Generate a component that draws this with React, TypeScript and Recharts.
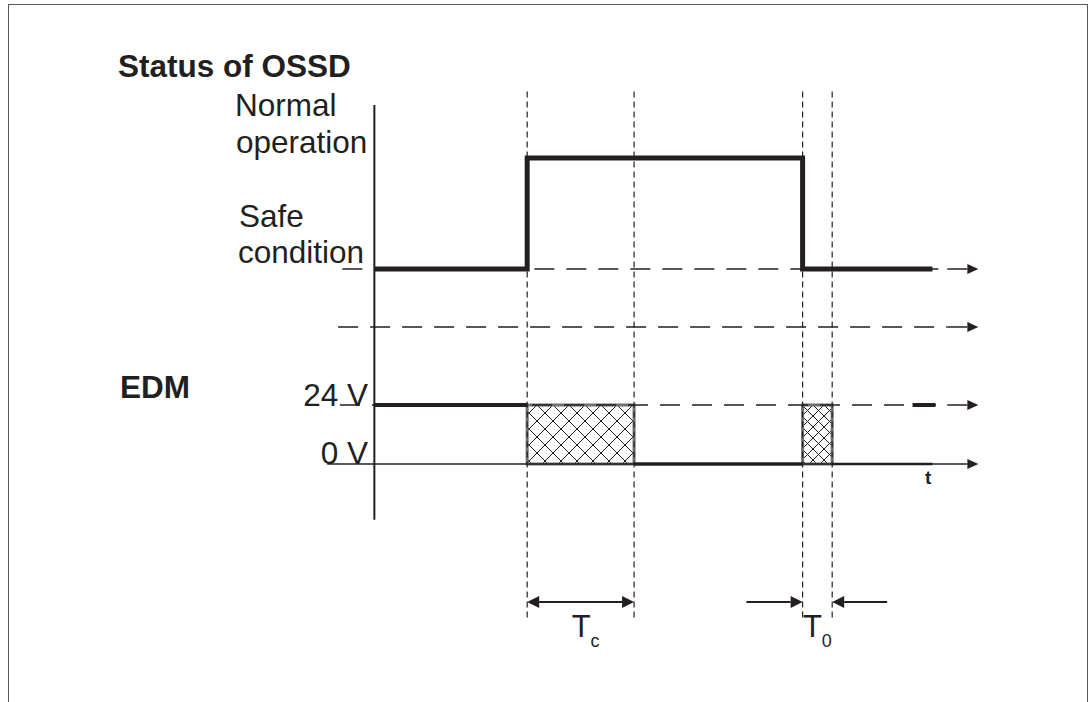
import React from "react";
import {
  ComposedChart,
  Line,
  XAxis,
  YAxis,
  ReferenceLine,
  ReferenceArea,
} from "recharts";

const INK = "#231f20";
const BOX = "#6d6e71";
const FONT = '"Liberation Sans", Arial, Helvetica, sans-serif';

// switching instants on the time axis (arbitrary units, axis origin = 0)
const switchTimes = [25.3, 43, 70.9, 75.8];
const axisEnd = 100;

// OSSD status: 0 = safe condition, 1 = normal operation
const ossdStatus = [
  { t: 0, v: 0 },
  { t: 25.3, v: 1 },
  { t: 70.9, v: 0 },
  { t: 92.4, v: 0 },
];

// EDM voltage pieces in volts
const edmHigh = [
  { t: 0, v: 24 },
  { t: 25.3, v: 24 },
];
const edmLow = [
  { t: 43, v: 0 },
  { t: 70.9, v: 0 },
];
const edmLowTail = [
  { t: 75.8, v: 0 },
  { t: 92.4, v: 0 },
];
const edmTick = [
  { t: 89.1, v: 24 },
  { t: 92.9, v: 24 },
];

// EDM undefined while the contacts switch (Tc, T0)
const edmWindows = [
  { from: 25.3, to: 43 },
  { from: 70.9, to: 75.8 },
];
const hatchIds = ["xhatch-wide", "xhatch-narrow"];

const arrowPath = (x: number, y: number, dir: number, len: number, half: number) =>
  `M${x},${y}L${x - dir * len},${y - half}L${x - dir * len},${y + half}Z`;

// horizontal time axis ending in an arrow
const timeArrow = (dashed: boolean) => (p: any) => {
  const { x1, y1, x2 } = p;
  const head = 11;
  const lead = dashed ? 20 : 0;
  const stop = x2 - head - lead;
  return (
    <g>
      <line
        x1={x1}
        y1={y1}
        x2={stop}
        y2={y1}
        stroke={INK}
        strokeWidth={1.5}
        strokeDasharray={dashed ? "20 12" : undefined}
      />
      {dashed && <line x1={stop} y1={y1} x2={x2 - head} y2={y1} stroke={INK} strokeWidth={1.5} />}
      <path d={arrowPath(x2, y1, 1, head, 5)} fill={INK} />
    </g>
  );
};

// dimension arrow, head at end (and optionally at start)
const dimArrow = (both: boolean) => (p: any) => {
  const { x1, y1, x2 } = p;
  const dir = x2 > x1 ? 1 : -1;
  const head = 12;
  return (
    <g>
      <line
        x1={both ? x1 + dir * head : x1}
        y1={y1}
        x2={x2 - dir * head}
        y2={y1}
        stroke={INK}
        strokeWidth={2}
      />
      <path d={arrowPath(x2, y1, dir, head, 6)} fill={INK} />
      {both && <path d={arrowPath(x1, y1, -dir, head, 6)} fill={INK} />}
    </g>
  );
};

const dimLabel = (main: string, sub: string, shift: number) => (p: any) => {
  const { x1, y1, x2 } = p;
  return (
    <text
      x={(x1 + x2) / 2 + shift}
      y={y1 + 35}
      textAnchor="middle"
      fill={INK}
      fontFamily={FONT}
    >
      <tspan fontSize={31}>{main}</tspan>
      <tspan fontSize={18} dy={10}>
        {sub}
      </tspan>
    </text>
  );
};

export default function App() {
  const textStyle = { fontFamily: FONT, fill: INK };
  return (
    <div
      style={{
        position: "absolute",
        left: 0,
        top: 0,
        width: 1090,
        height: 702,
        background: "#fff",
        overflow: "hidden",
      }}
    >
      <svg width={0} height={0} style={{ position: "absolute" }}>
        <defs>
          <pattern
            id="xhatch-wide"
            width={16}
            height={16}
            patternUnits="userSpaceOnUse"
            patternTransform="translate(521,405)"
          >
            <path d="M0,0L16,16M16,0L0,16" stroke={INK} strokeWidth={1} />
          </pattern>
          <pattern
            id="xhatch-narrow"
            width={11}
            height={11}
            patternUnits="userSpaceOnUse"
            patternTransform="translate(802,405)"
          >
            <path d="M0,0L11,11M11,0L0,11" stroke={INK} strokeWidth={1} />
          </pattern>
        </defs>
      </svg>

      <div
        style={{
          position: "absolute",
          left: 8,
          top: 4,
          width: 1078,
          height: 720,
          borderStyle: "solid",
          borderColor: "#5a5a5a",
          borderWidth: "1.5px 1.5px 0 1.5px",
        }}
      />

      <div style={{ position: "absolute", left: 0, top: 0 }}>
        <ComposedChart
          width={1090}
          height={702}
          margin={{ top: 60, right: 105.6, bottom: 42, left: 320 }}
        >
          <XAxis type="number" dataKey="t" domain={[-9, 101]} allowDataOverflow hide />
          <YAxis yAxisId="ossd" type="number" domain={[-3.523, 1.883]} allowDataOverflow hide />
          <YAxis yAxisId="edm" type="number" domain={[-79.73, 164.34]} allowDataOverflow hide />

          {/* switching instants */}
          {switchTimes.map((t) => (
            <ReferenceLine
              key={`sw-${t}`}
              yAxisId="ossd"
              segment={[
                { x: t, y: 1.6 },
                { x: t, y: -3.17 },
              ]}
              stroke={INK}
              strokeWidth={1.2}
              strokeDasharray="6 4"
              ifOverflow="visible"
            />
          ))}

          {/* time axes */}
          <ReferenceLine
            yAxisId="ossd"
            segment={[
              { x: -5.3, y: 0 },
              { x: axisEnd, y: 0 },
            ]}
            shape={timeArrow(true)}
            ifOverflow="visible"
          />
          <ReferenceLine
            yAxisId="ossd"
            segment={[
              { x: -6, y: -0.5225 },
              { x: axisEnd, y: -0.5225 },
            ]}
            shape={timeArrow(true)}
            ifOverflow="visible"
          />
          <ReferenceLine
            yAxisId="edm"
            segment={[
              { x: -5.7, y: 24 },
              { x: axisEnd, y: 24 },
            ]}
            shape={timeArrow(true)}
            ifOverflow="visible"
          />
          <ReferenceLine
            yAxisId="edm"
            segment={[
              { x: -7.8, y: 0 },
              { x: axisEnd, y: 0 },
            ]}
            shape={timeArrow(false)}
            ifOverflow="visible"
          />

          {/* vertical axis */}
          <ReferenceLine
            yAxisId="ossd"
            segment={[
              { x: 0, y: 1.477 },
              { x: 0, y: -2.26 },
            ]}
            stroke={INK}
            strokeWidth={2}
            ifOverflow="visible"
          />

          {edmWindows.map((w, i) => (
            <ReferenceArea
              key={`win-${w.from}`}
              yAxisId="edm"
              x1={w.from}
              x2={w.to}
              y1={0}
              y2={24}
              fill={`url(#${hatchIds[i]})`}
              fillOpacity={1}
              stroke={BOX}
              strokeWidth={3}
              ifOverflow="visible"
            />
          ))}

          <Line
            yAxisId="ossd"
            data={ossdStatus}
            dataKey="v"
            type="stepAfter"
            stroke={INK}
            strokeWidth={5}
            dot={false}
            activeDot={false}
            isAnimationActive={false}
          />
          <Line
            yAxisId="edm"
            data={edmHigh}
            dataKey="v"
            type="linear"
            stroke={INK}
            strokeWidth={4}
            dot={false}
            activeDot={false}
            isAnimationActive={false}
          />
          <Line
            yAxisId="edm"
            data={edmLow}
            dataKey="v"
            type="linear"
            stroke={INK}
            strokeWidth={3.5}
            dot={false}
            activeDot={false}
            isAnimationActive={false}
          />
          <Line
            yAxisId="edm"
            data={edmLowTail}
            dataKey="v"
            type="linear"
            stroke={INK}
            strokeWidth={2.5}
            dot={false}
            activeDot={false}
            isAnimationActive={false}
          />
          <Line
            yAxisId="edm"
            data={edmTick}
            dataKey="v"
            type="linear"
            stroke={INK}
            strokeWidth={4}
            dot={false}
            activeDot={false}
            isAnimationActive={false}
          />

          {/* dimensions Tc and T0 */}
          <ReferenceLine
            yAxisId="ossd"
            segment={[
              { x: 25.3, y: -3 },
              { x: 43, y: -3 },
            ]}
            shape={dimArrow(true)}
            ifOverflow="visible"
          />
          <ReferenceLine
            yAxisId="ossd"
            segment={[
              { x: 25.3, y: -3 },
              { x: 43, y: -3 },
            ]}
            shape={dimLabel("T", "c", 5)}
            ifOverflow="visible"
          />
          <ReferenceLine
            yAxisId="ossd"
            segment={[
              { x: 61.6, y: -3 },
              { x: 70.9, y: -3 },
            ]}
            shape={dimArrow(false)}
            ifOverflow="visible"
          />
          <ReferenceLine
            yAxisId="ossd"
            segment={[
              { x: 84.9, y: -3 },
              { x: 75.8, y: -3 },
            ]}
            shape={dimArrow(false)}
            ifOverflow="visible"
          />
          <ReferenceLine
            yAxisId="ossd"
            segment={[
              { x: 70.9, y: -3 },
              { x: 75.8, y: -3 },
            ]}
            shape={dimLabel("T", "0", 0)}
            ifOverflow="visible"
          />
        </ComposedChart>
      </div>

      <svg
        width={1090}
        height={702}
        style={{ position: "absolute", left: 0, top: 0, pointerEvents: "none" }}
      >
        <text x={118} y={77} fontSize={31.5} fontWeight="bold" style={textStyle}>
          Status of OSSD
        </text>
        <text x={235} y={116} fontSize={31.5} style={textStyle}>
          Normal
        </text>
        <text x={236} y={153} fontSize={31.5} style={textStyle}>
          operation
        </text>
        <text x={239} y={227} fontSize={31.5} style={textStyle}>
          Safe
        </text>
        <text x={238} y={263} fontSize={31.5} style={textStyle}>
          condition
        </text>
        <text x={120} y={398} fontSize={31.5} fontWeight="bold" style={textStyle}>
          EDM
        </text>
        <text x={368} y={406} fontSize={31.5} textAnchor="end" style={textStyle}>
          24 V
        </text>
        <text x={368} y={464} fontSize={31.5} textAnchor="end" style={textStyle}>
          0 V
        </text>
        <text x={925} y={484} fontSize={19} fontWeight="bold" style={textStyle}>
          t
        </text>
      </svg>
    </div>
  );
}
